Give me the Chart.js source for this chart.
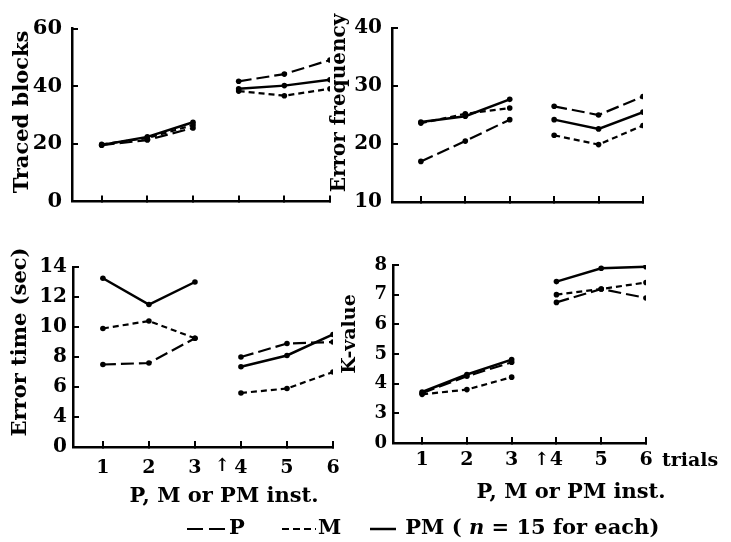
<!DOCTYPE html>
<html>
<head>
<meta charset="utf-8">
<script src="https://cdn.jsdelivr.net/npm/chart.js@4/dist/chart.umd.min.js"></script>
<style>
    body { margin: 0; background: #fff; }
    #page { position: relative; width: 731px; height: 542px; overflow: hidden; background: #fff;
            font-family: 'DejaVu Serif', serif; font-weight: bold; color: #000; }
    canvas { position: absolute; }
    .caption { position: absolute; width: 230px; text-align: center; font-size: 21px; line-height: 21px; white-space: nowrap; }
    .key { position: absolute; top: 516px; font-size: 21px; line-height: 21px; white-space: nowrap; }
    .key svg { vertical-align: middle; margin-right: 2px; }
</style>
</head>
<body>
<div id="page">
    <canvas id="c_blocks" width="360" height="230" style="left:0;top:0"></canvas>
    <canvas id="c_freq" width="406" height="230" style="left:325px;top:0"></canvas>
    <canvas id="c_time" width="360" height="312" style="left:0;top:230px"></canvas>
    <canvas id="c_k" width="406" height="312" style="left:325px;top:230px"></canvas>

    <div class="caption" style="left:109px;top:484px">P, M or PM inst.</div>
    <div class="caption" style="left:456px;top:480px">P, M or PM inst.</div>

    <div class="key" style="left:187px"><svg width="40" height="12"><line x1="0" y1="6" x2="40" y2="6" stroke="#000" stroke-width="2" stroke-dasharray="16,6"/></svg>P</div>
    <div class="key" style="left:282px"><svg width="34" height="12"><line x1="0" y1="6" x2="34" y2="6" stroke="#000" stroke-width="2" stroke-dasharray="7,4"/></svg>M</div>
    <div class="key" style="left:370px"><svg width="26" height="12"><line x1="0" y1="6" x2="26" y2="6" stroke="#000" stroke-width="2.5"/></svg> PM ( <i>n</i> = 15 for each)</div>
</div>
<script>
// Trials (x)
const trials = [1, 2, 3, 4, 5, 6];
const trialLabels = ['1', '2', '3', '4', '5', '6'];

// Traced blocks
const blocksTicks = [0, 20, 40, 60];
const blocksP  = [19.5, 21.3, 25.5, 41.7, 44.2, 49.1];
const blocksM  = [19.8, 22.0, 26.5, 38.3, 36.7, 39.1];
const blocksPM = [19.6, 22.4, 27.5, 39.1, 40.2, 42.2];

// Error frequency
const freqTicks = [10, 20, 30, 40];
const freqP  = [17.0, 20.5, 24.2, 26.5, 25.0, 28.2];
const freqM  = [23.6, 25.2, 26.2, 21.5, 19.9, 23.2];
const freqPM = [23.8, 24.8, 27.7, 24.2, 22.6, 25.5];

// Error time (sec) - axis broken, lowest tick printed as 0
const timeTicks = [2, 4, 6, 8, 10, 12, 14];
const timeTickLabels = ['0', '4', '6', '8', '10', '12', '14'];
const timeP  = [7.5, 7.6, 9.25, 8.0, 8.9, 9.0];
const timeM  = [9.9, 10.4, 9.25, 5.6, 5.9, 7.0];
const timePM = [13.25, 11.5, 13.0, 7.35, 8.1, 9.5];

// K-value - axis broken, lowest tick printed as 0
const kTicks = [2, 3, 4, 5, 6, 7, 8];
const kTickLabels = ['0', '3', '4', '5', '6', '7', '8'];
const kP  = [3.68, 4.25, 4.72, 6.74, 7.19, 6.89];
const kM  = [3.64, 3.80, 4.22, 7.00, 7.19, 7.41];
const kPM = [3.72, 4.31, 4.81, 7.44, 7.89, 7.94];

// Line styles
const dashP = [13, 5];
const dashM = [6, 4];

Chart.defaults.font.family = "'DejaVu Serif', serif";
Chart.defaults.font.weight = 'bold';
Chart.defaults.color = '#000';

// Free text (axis titles, arrow, 'trials'), kept out of the option resolver
const drawNotes = (chart, items) =>
{
    const ctx = chart.ctx;
    items.forEach((item) =>
    {
        let x = item.x, y = item.y;
        if(item.at !== undefined)
        {
            x = chart.scales.x.getPixelForValue(item.at) + (item.dx || 0);
            y = chart.chartArea.bottom + item.dy;
        }
        ctx.save();
        ctx.font = item.font;
        ctx.fillStyle = '#000';
        ctx.textAlign = item.align || 'center';
        ctx.textBaseline = 'middle';
        ctx.translate(x, y);
        if(item.rotate) ctx.rotate(-Math.PI / 2);
        ctx.fillText(item.text, 0, 0);
        ctx.restore();
    });
};

const makeSet = (values, dash, width) =>
({
    data: values.map((v, i) => ({x: trials[i], y: v}))
    ,borderColor: '#000'
    ,borderWidth: width
    ,borderDash: dash
    ,pointRadius: 2.8
    ,pointBackgroundColor: '#000'
    ,pointBorderWidth: 0
    ,tension: 0
    // no line between trial 3 and trial 4
    ,segment: {borderColor: (ctx) => ctx.p0DataIndex === 2 ? 'rgba(0,0,0,0)' : '#000'}
});

const makePanel = (id, p) =>
{
    new Chart(document.getElementById(id),
    {
        type: 'line'
        ,data: {datasets: [makeSet(p.P, dashP, 2.2), makeSet(p.M, dashM, 2.2), makeSet(p.PM, [], 2.5)]}
        ,plugins: [{id: 'notes', afterDraw: (chart) => drawNotes(chart, p.notes)}]
        ,options:
        {
            responsive: false
            ,animation: false
            ,devicePixelRatio: 1
            ,layout: {padding: {top: p.padTop, right: p.padRight, bottom: 0, left: 0}}
            ,plugins:
            {
                legend: {display: false}
                ,tooltip: {enabled: false}
            }
            ,scales:
            {
                x:
                {
                    type: 'linear'
                    ,min: 0.35
                    ,max: 6
                    ,afterBuildTicks: (s) => { s.ticks = trials.map((v) => ({value: v})); }
                    ,afterFit: (s) => { s.height = p.xHeight; }
                    ,border: {display: true, color: '#000', width: 2.5}
                    ,grid: {drawOnChartArea: false, drawTicks: true, tickLength: -6, color: '#000', lineWidth: 2}
                    ,ticks:
                    {
                        display: p.xLabels
                        ,autoSkip: false
                        ,maxRotation: 0
                        ,padding: p.xPad
                        ,font: {size: 19, weight: 'bold'}
                        ,callback: (v, i) => trialLabels[i]
                    }
                }
                ,y:
                {
                    type: 'linear'
                    ,min: p.ticks[0]
                    ,max: p.ticks[p.ticks.length - 1]
                    ,afterBuildTicks: (s) => { s.ticks = p.ticks.map((v) => ({value: v})); }
                    ,afterFit: (s) => { s.width = p.yWidth; }
                    ,border: {display: true, color: '#000', width: 2.5}
                    ,grid: {drawOnChartArea: false, drawTicks: true, tickLength: -6, color: '#000', lineWidth: 2}
                    ,ticks:
                    {
                        padding: p.yPad
                        ,font: {size: p.yFont, weight: 'bold'}
                        ,callback: (v, i) => p.tickLabels[i]
                    }
                }
            }
        }
    });
};

const titleFont = (size) => 'bold ' + size + "px 'DejaVu Serif', serif";

// Traced blocks
makePanel('c_blocks',
{
    P: blocksP, M: blocksM, PM: blocksPM
    ,ticks: blocksTicks, tickLabels: blocksTicks.map(String)
    ,padTop: 27, padRight: 30, xHeight: 23, yWidth: 72, yPad: 16, yFont: 21
    ,xLabels: false, xPad: 0
    ,notes: [{text: 'Traced blocks', x: 23, y: 112, rotate: true, font: titleFont(21)}]
});

// Error frequency
makePanel('c_freq',
{
    P: freqP, M: freqM, PM: freqPM
    ,ticks: freqTicks, tickLabels: freqTicks.map(String)
    ,padTop: 25, padRight: 88, xHeight: 27, yWidth: 67, yPad: 16, yFont: 20
    ,xLabels: false, xPad: 0
    ,notes: [{text: 'Error frequency', x: 15, y: 103, rotate: true, font: titleFont(20)}]
});

// Error time
makePanel('c_time',
{
    P: timeP, M: timeM, PM: timePM
    ,ticks: timeTicks, tickLabels: timeTickLabels
    ,padTop: 37, padRight: 27, xHeight: 95, yWidth: 73, yPad: 12, yFont: 20
    ,xLabels: true, xPad: 16
    ,notes:
    [
        {text: 'Error time (sec)', x: 21, y: 112, rotate: true, font: titleFont(21)}
        ,{text: '↑', at: 4, dx: -19, dy: 19, font: titleFont(18)}
    ]
});

// K-value
makePanel('c_k',
{
    P: kP, M: kM, PM: kPM
    ,ticks: kTicks, tickLabels: kTickLabels
    ,padTop: 35, padRight: 85, xHeight: 99, yWidth: 68, yPad: 12, yFont: 18
    ,xLabels: true, xPad: 12
    ,notes:
    [
        {text: 'K-value', x: 25, y: 104, rotate: true, font: titleFont(19)}
        ,{text: '↑', at: 4, dx: -15, dy: 17, font: titleFont(18)}
        ,{text: 'trials', at: 6, dx: 16, dy: 18, align: 'left', font: titleFont(19)}
    ]
});
</script>
</body>
</html>
